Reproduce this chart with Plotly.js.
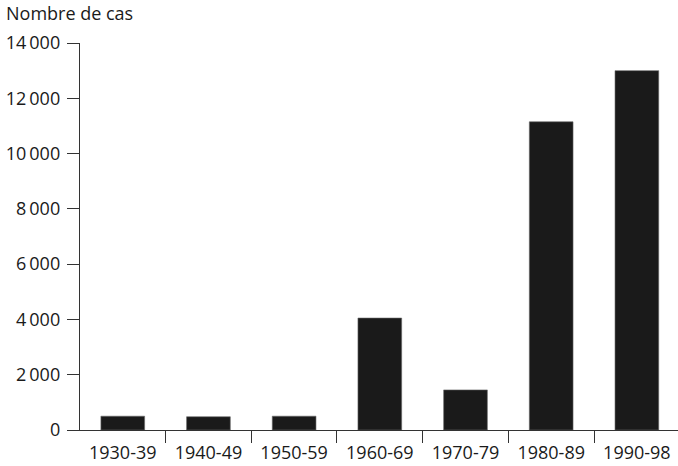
<!DOCTYPE html>
<html>
<head>
<meta charset="utf-8">
<script src="https://cdn.plot.ly/plotly-3.0.1.min.js"></script>
<style>html,body{margin:0;padding:0;background:#fff;}#chart{width:678px;height:466px;}</style>
</head>
<body>
<div id="chart"></div>
<script>
const categories = ["1930-39", "1940-49", "1950-59", "1960-69", "1970-79", "1980-89", "1990-98"];
const cases = [500, 480, 500, 4050, 1450, 11150, 13000];
const yTickVals = [0, 2000, 4000, 6000, 8000, 10000, 12000, 14000];
const yTickText = ["0", "2\u2009000", "4\u2009000", "6\u2009000", "8\u2009000", "10\u2009000", "12\u2009000", "14\u2009000"];
const yTitle = "Nombre de cas";

const font = {family: "Open Sans, sans-serif", size: 18, color: "#1a1a1a"};

Plotly.newPlot("chart", [{
  type: "bar",
  x: categories,
  y: cases,
  width: 0.51,
  marker: {color: "#1a1a1a", line: {color: "#666", width: 0.6}},
  hoverinfo: "none"
}], {
  width: 678, height: 466,
  margin: {l: 80, r: 0, t: 43, b: 36, pad: 0},
  paper_bgcolor: "#fff", plot_bgcolor: "#fff",
  font: font,
  showlegend: false,
  title: {text: yTitle, font: {family: "Open Sans, sans-serif", size: 18, color: "#1a1a1a"},
          xref: "container", x: 6/678, xanchor: "left", yref: "container", y: 1 - 7/466, yanchor: "top"},
  xaxis: {
    type: "category", range: [-0.499, 6.48],
    showline: true, linecolor: "#333", linewidth: 1.2,
    ticks: "outside", tickson: "boundaries", ticklen: 12, tickcolor: "#333", tickwidth: 1,
    ticklabelstandoff: 6,
    showgrid: false, zeroline: false, tickfont: font, fixedrange: true
  },
  yaxis: {
    range: [0, 14000],
    tickvals: yTickVals, ticktext: yTickText,
    showline: true, linecolor: "#333", linewidth: 1.2,
    ticks: "outside", ticklen: 12, tickcolor: "#333", tickwidth: 1,
    ticklabelstandoff: 3,
    showgrid: false, zeroline: false, tickfont: font, fixedrange: true
  },
  bargap: 0.49
}, {staticPlot: true});
</script>
</body>
</html>
